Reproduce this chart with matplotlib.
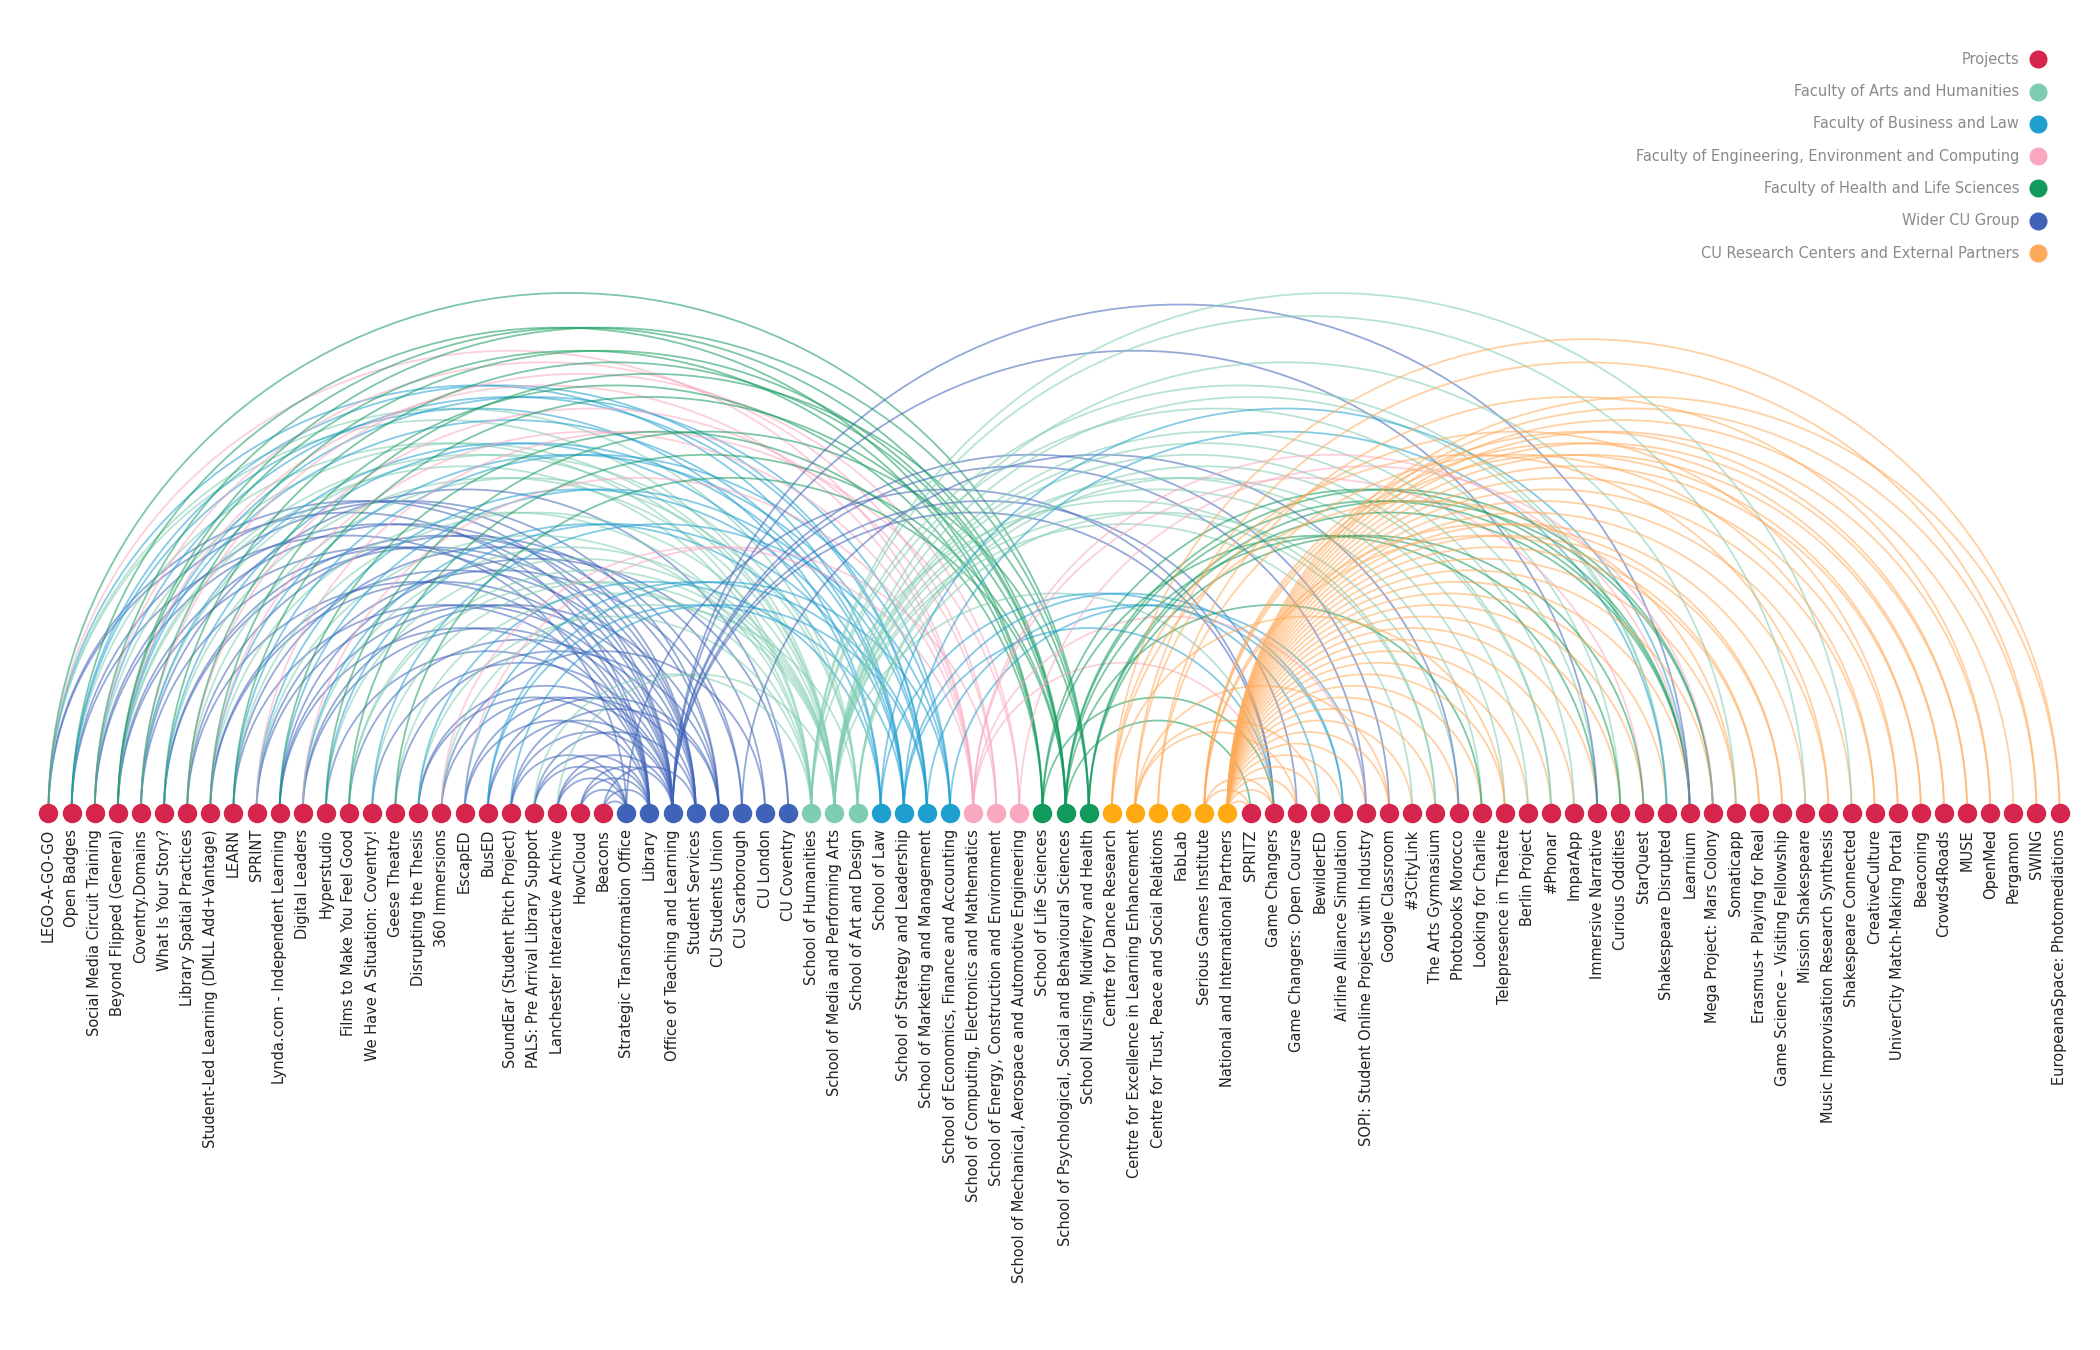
import numpy as np
import matplotlib.pyplot as plt

# node names in order along the axis
projects_left = ["LEGO-A-GO-GO", "Open Badges", "Social Media Circuit Training", "Beyond Flipped (General)",
                 "Coventry.Domains", "What Is Your Story?", "Library Spatial Practices",
                 "Student-Led Learning (DMLL Add+Vantage)", "LEARN", "SPRINT", "Lynda.com - Independent Learning",
                 "Digital Leaders", "Hyperstudio", "Films to Make You Feel Good", "We Have A Situation: Coventry!",
                 "Geese Theatre", "Disrupting the Thesis", "360 Immersions", "EscapED", "BusED",
                 "SoundEar (Student Pitch Project)", "PALS: Pre Arrival Library Support",
                 "Lanchester Interactive Archive", "HowCloud", "Beacons"]
wider = ["Strategic Transformation Office", "Library", "Office of Teaching and Learning", "Student Services",
         "CU Students Union", "CU Scarborough", "CU London", "CU Coventry"]
arts = ["School of Humanities", "School of Media and Performing Arts", "School of Art and Design"]
business = ["School of Law", "School of Strategy and Leadership", "School of Marketing and Management",
            "School of Economics, Finance and Accounting"]
engineering = ["School of Computing, Electronics and Mathematics", "School of Energy, Construction and Environment",
               "School of Mechanical, Aerospace and Automotive Engineering"]
health = ["School of Life Sciences", "School of Psychological, Social and Behavioural Sciences",
          "School Nursing, Midwifery and Health"]
research = ["Centre for Dance Research", "Centre for Excellence in Learning Enhancement",
            "Centre for Trust, Peace and Social Relations", "FabLab", "Serious Games Institute",
            "National and International Partners"]
projects_right = ["SPRITZ", "Game Changers", "Game Changers: Open Course", "BewilderED", "Airline Alliance Simulation",
                  "SOPI: Student Online Projects with Industry", "Google Classroom", "#3CityLink", "The Arts Gymnasium",
                  "Photobooks Morocco", "Looking for Charlie", "Telepresence in Theatre", "Berlin Project", "#Phonar",
                  "ImparApp", "Immersive Narrative", "Curious Oddities", "StarQuest", "Shakespeare Disrupted",
                  "Learnium", "Mega Project: Mars Colony", "Somaticapp", "Erasmus+ Playing for Real",
                  "Game Science – Visiting Fellowship", "Mission Shakespeare", "Music Improvisation Research Synthesis",
                  "Shakespeare Connected", "CreativeCulture", "UniverCity Match-Making Portal", "Beaconing",
                  "Crowds4Roads", "MUSE", "OpenMed", "Pergamon", "SWING", "EuropeanaSpace: Photomediations"]

group_names = ["Projects", "Faculty of Arts and Humanities", "Faculty of Business and Law",
               "Faculty of Engineering, Environment and Computing", "Faculty of Health and Life Sciences",
               "Wider CU Group", "CU Research Centers and External Partners"]
group_colors = ["#d5254c", "#7fcdb1", "#1f9fd0", "#f9a8c0", "#12995c", "#3e63b8", "#ffaa5a"]
node_colors = ["#d5254c", "#7fcdb1", "#1f9fd0", "#f9a8c0", "#12995c", "#3e63b8", "#ffaa10"]

# links: project -> partner codes (W wider, A arts, B business, E engineering, H health, R research)
links_left = [
    "W2 W3 A2 A3 B2 E1 H3", "W1 W4 A1 B1 B3 H1", "W3 W5 A2 B3 E2 H2", "W2 W4 A1 A2 B2 B4 E1 H1 H3",
    "W3 W8 A3 B1 E3 H2", "W4 W5 A2 B2 H2", "W2 W6 A3 E2 H1", "W3 W4 A1 B3 E1 H3", "W2 W7 A2 B4 H2",
    "W3 W6 A1 B2 E3", "W2 W4 W8 B3 H1", "W3 W5 A2 B1 E1", "W2 A2 B2 H3", "W4 A2 A1 H2", "W3 A2 B4",
    "W5 A2 H2", "W2 W3 A1 B1", "W3 W7 A3 E1", "W2 W4 E2 B3", "W3 W5 B2 B4", "W1 W3 W5 B3",
    "W1 W2 W4 A1", "W1 W2 W3 A2", "W1 W2 W3", "W1 W2 W4"]
links_right = [
    "R6 R5 H2", "W1 W3 A2 B2 E1 H1 R5 R6", "R6 W3 R2", "R6 R2 B1", "R6 B2 B3", "R6 B4 W3 E1", "R6 W3 R2",
    "R6 A2", "R6 A2 A1", "R6 A3 W6", "R6 A2 H2", "R6 A2 R1", "R6 A3", "R6 A3 A2", "R6 A2", "R6 A2 H1 W3",
    "R6 A1 H2", "R6 E1 H3", "R6 A2 A1 B2", "R6 H1 H2 H3 B1 E1 W3", "R6 H2 H3 E3", "R1 R6 A2", "R5 R6",
    "R5 R6", "R6 A1", "R6 R1", "R6 A1", "R6 R3", "R6 R2", "R5 R6", "R6 R5", "R6 R5", "R6 R3", "R6",
    "R6 R2", "R6 R1"]

nodes = (projects_left + wider + arts + business + engineering + health + research + projects_right)
ngroup = ([0] * len(projects_left) + [5] * len(wider) + [1] * len(arts) + [2] * len(business)
          + [3] * len(engineering) + [4] * len(health) + [6] * len(research) + [0] * len(projects_right))
codes = {"W": (wider, 5), "A": (arts, 1), "B": (business, 2), "E": (engineering, 3),
         "H": (health, 4), "R": (research, 6)}
pos = {n: i for i, n in enumerate(nodes)}

fig = plt.figure(figsize=(21, 13.5), dpi=100)
ax = fig.add_axes([0, 0, 1, 1])
ax.set_xlim(0, 1560)
ax.set_ylim(1003, 0)
ax.axis("off")

x0, step, y0 = 36, (1530 - 36) / (len(nodes) - 1), 604
xs = x0 + step * np.arange(len(nodes))

t = np.linspace(0, np.pi, 80)
for plist, llist in [(projects_left, links_left), (projects_right, links_right)]:
    for p, lk in zip(plist, llist):
        for c in lk.split():
            names, g = codes[c[0]]
            a, b = xs[pos[p]], xs[pos[names[int(c[1:]) - 1]]]
            cx, r = (a + b) / 2, abs(b - a) / 2
            ax.plot(cx + r * np.cos(t), y0 - r * np.sin(t), color=group_colors[g], lw=1.3, alpha=0.55, zorder=1)

for i, n in enumerate(nodes):
    ax.plot(xs[i], y0, "o", ms=13, color=node_colors[ngroup[i]], zorder=3)
    ax.text(xs[i], y0 + 12, n, rotation=90, ha="center", va="top", fontsize=10.5, color="#222222")

for k, (gn, gc) in enumerate(zip(group_names, group_colors)):
    yy = 44 + 24 * k
    ax.plot(1514, yy, "o", ms=12, color=gc)
    ax.text(1500, yy, gn, ha="right", va="center", fontsize=10.5, color="#8a8a8a")

fig.savefig("out.png", dpi=100)
